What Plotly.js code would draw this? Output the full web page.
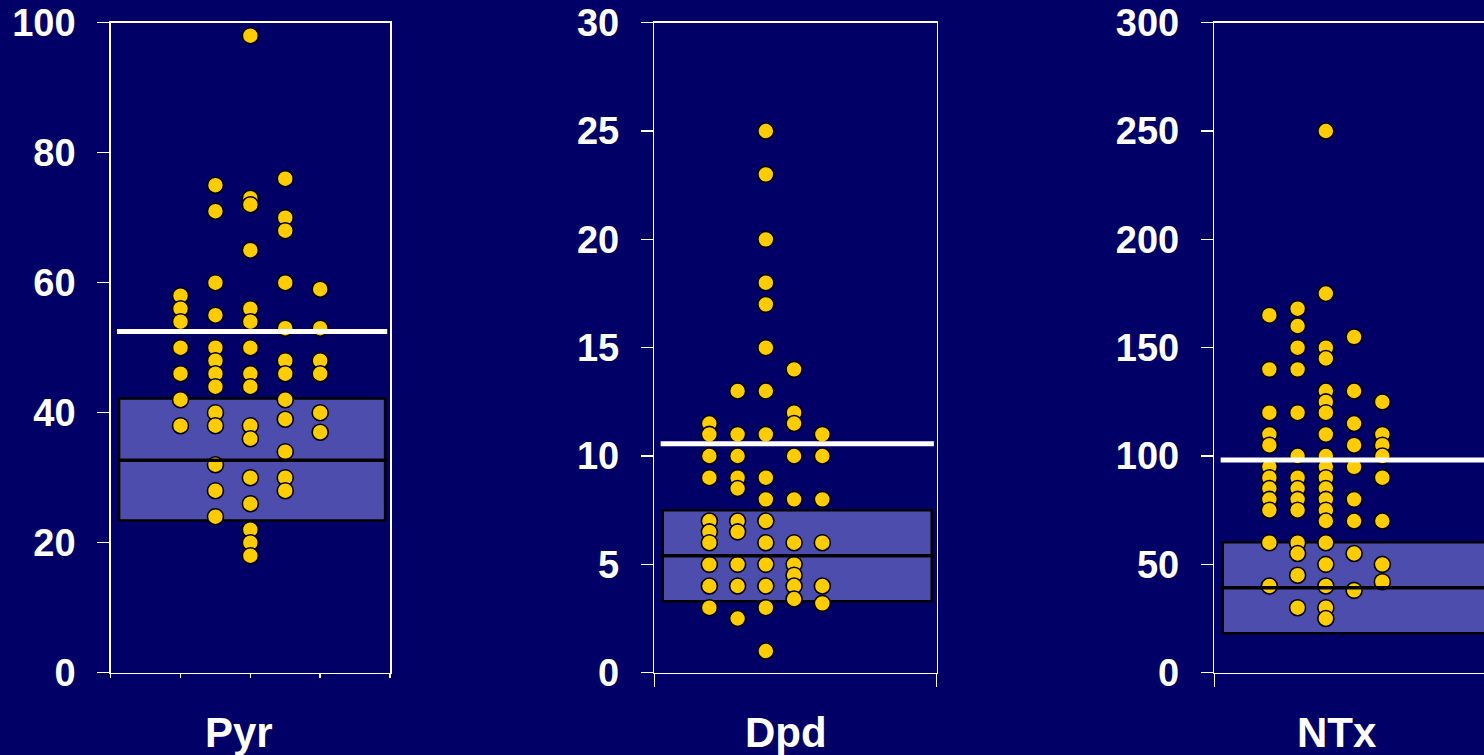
<!DOCTYPE html>
<html><head><meta charset="utf-8">
<script src="https://cdn.plot.ly/plotly-3.0.1.min.js"></script>
<style>html,body{margin:0;padding:0;background:#000066;overflow:hidden}</style>
</head><body><div id="chart" style="width:1484px;height:755px"></div>
<script>
// ---- data ----
const panelNames = ['Pyr', 'Dpd', 'NTx'];

const pyrColumns = [
  [58, 56, 54, 50, 46, 42, 38],
  [75, 71, 60, 55, 50, 48, 46, 44, 40, 38, 32, 28, 24],
  [98, 73, 72, 65, 56, 54, 50, 46, 44, 38, 36, 30, 26, 22, 20, 18],
  [76, 70, 68, 60, 53, 48, 46, 42, 39, 34, 30, 28],
  [59, 53, 48, 46, 40, 37]
];
const dpdColumns = [
  [11.5, 11, 10, 9, 7, 6.5, 6, 5, 4, 3],
  [13, 11, 10, 9, 8.5, 7, 6.5, 5, 4, 2.5],
  [25, 23, 20, 18, 17, 15, 13, 11, 9, 8, 7, 6, 5, 4, 3, 1],
  [14, 12, 11.5, 10, 8, 6, 5, 4.5, 4, 3.4],
  [11, 10, 8, 6, 4, 3.2]
];
const ntxColumns = [
  [165, 140, 120, 110, 105, 95, 90, 85, 80, 75, 60, 40],
  [168, 160, 150, 140, 120, 100, 90, 85, 80, 75, 60, 55, 45, 30],
  [250, 175, 150, 145, 130, 125, 120, 110, 100, 95, 90, 85, 80, 75, 70, 60, 50, 40, 30, 25],
  [155, 130, 115, 105, 95, 80, 70, 55, 38],
  [125, 110, 105, 100, 90, 70, 50, 42]
];

const boxLow = [23.4, 3.3, 18.2];
const boxHigh = [42.2, 7.5, 60.2];
const medians = [32.7, 5.4, 39.2];
const means = [52.5, 10.57, 98.2];
const yMax = [100, 30, 300];
const yStep = [20, 5, 50];

// ---- layout helpers ----
const W = 1484, H = 755;
const allColumns = [pyrColumns, dpdColumns, ntxColumns];
const colX = [[1, 1.5, 2, 2.5, 3], [0.78, 1.18, 1.58, 1.98, 2.38], [0.78, 1.18, 1.58, 1.98, 2.38]];
const xDomains = [[110.7 / W, 390 / W], [654.3 / W, 936.7 / W], [1214.3 / W, 1]];
const xRanges = [[0, 4], [0, 4], [0, (W - 1214.3) / 70.6]];
const yDomain = [(H - 672.7) / H, (H - 22.7) / H];
const titleCenters = [239, 786, 1337];

const bg = '#000066';
const tickFont = {family: 'Arial, "Liberation Sans", sans-serif', size: 38, color: '#ffffff', weight: 700};
const titleFont = {family: 'Arial, "Liberation Sans", sans-serif', size: 42, color: '#ffffff', weight: 700};

const traces = [];
const shapes = [];
const annotations = [];
const layout = {
  width: W, height: H,
  paper_bgcolor: bg, plot_bgcolor: bg,
  margin: {l: 0, r: 0, t: 0, b: 0},
  showlegend: false,
  shapes: shapes,
  annotations: annotations
};

for (let p = 0; p < 3; p++) {
  const sfx = p === 0 ? '' : String(p + 1);
  const xs = [], ys = [];
  allColumns[p].forEach((col, ci) => {
    col.forEach(v => { xs.push(colX[p][ci]); ys.push(v); });
  });
  traces.push({
    type: 'scatter', mode: 'markers', x: xs, y: ys,
    xaxis: 'x' + sfx, yaxis: 'y' + sfx,
    marker: {size: 16, color: '#FFCC00', line: {color: '#000000', width: 1.6}},
    hoverinfo: 'skip', cliponaxis: false
  });
  const xr = 'x' + sfx, yr = 'y' + sfx;
  shapes.push({type: 'rect', xref: xr, yref: yr, x0: 0.12, x1: 3.93, y0: boxLow[p], y1: boxHigh[p],
    fillcolor: '#4D4DAE', line: {color: '#000000', width: 2.5}, layer: 'below'});
  shapes.push({type: 'line', xref: xr, yref: yr, x0: 0.09, x1: 3.96, y0: medians[p], y1: medians[p],
    line: {color: '#000000', width: 3.5}, layer: 'above'});
  shapes.push({type: 'line', xref: xr, yref: yr, x0: 0.09, x1: 3.96, y0: means[p], y1: means[p],
    line: {color: '#ffffff', width: 5}, layer: 'above'});

  annotations.push({
    text: panelNames[p], xref: 'paper', yref: 'paper',
    x: titleCenters[p] / W, y: (H - 732) / H, xanchor: 'center', yanchor: 'middle',
    showarrow: false, font: titleFont
  });

  layout['xaxis' + sfx] = {
    domain: xDomains[p], range: xRanges[p], anchor: 'y' + sfx,
    showline: true, linecolor: '#ffffff', linewidth: 1.5, mirror: true,
    showgrid: false, zeroline: false, showticklabels: false,
    ticks: 'outside', tickcolor: '#ffffff', tickwidth: 1.5,
    ticklen: p === 0 ? 4 : 13,
    tickmode: 'array', tickvals: p === 0 ? [0, 1, 2, 3, 4] : [0, 4],
    automargin: false, fixedrange: true
  };
  layout['yaxis' + sfx] = {
    domain: yDomain, range: [0, yMax[p]], anchor: 'x' + sfx,
    showline: true, linecolor: '#ffffff', linewidth: 1.5, mirror: p < 2,
    showgrid: false, zeroline: false,
    ticks: 'outside', tickcolor: '#ffffff', tickwidth: 1.5, ticklen: 12,
    tickmode: 'linear', tick0: 0, dtick: yStep[p],
    tickfont: tickFont, ticklabelstandoff: 14,
    automargin: false, fixedrange: true
  };
}

Plotly.newPlot('chart', traces, layout, {displayModeBar: false, staticPlot: true});
</script>
</body></html>
